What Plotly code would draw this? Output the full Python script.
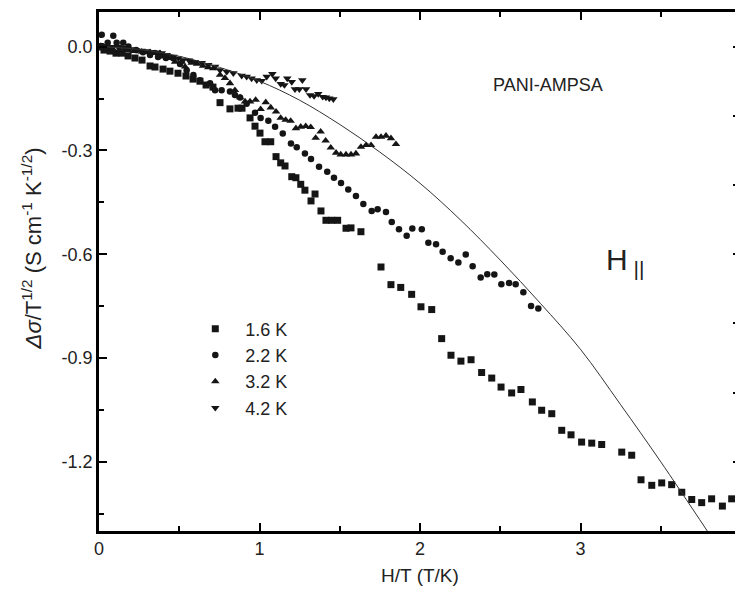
import plotly.graph_objects as go

# ---- data ----
x_16 = [0.006,0.031,0.069,0.106,0.143,0.181,0.224,0.268,0.318,0.349,0.399,0.442,0.492,0.542,0.586,0.629,0.667,0.710,
        0.754,0.816,0.866,0.891,0.941,0.972,1.003,1.034,1.070,1.103,1.132,1.159,1.201,1.227,1.257,1.283,1.321,1.346,
        1.383,1.414,1.450,1.487,1.539,1.570,1.632,1.757,1.819,1.880,1.948,2.006,2.073,2.135,2.193,2.255,2.318,2.384,
        2.447,2.505,2.571,2.629,2.700,2.758,2.821,2.883,2.941,3.007,3.070,3.132,3.257,3.319,3.377,3.444,3.506,3.568,
        3.631,3.693,3.755,3.817,3.884,3.942]
y_16 = [-0.001,-0.010,-0.013,-0.019,-0.019,-0.027,-0.033,-0.039,-0.056,-0.059,-0.065,-0.071,-0.077,-0.085,-0.094,-0.100,-0.111,-0.117,
        -0.162,-0.180,-0.178,-0.178,-0.206,-0.230,-0.250,-0.275,-0.275,-0.318,-0.336,-0.345,-0.376,-0.379,-0.398,-0.415,-0.446,-0.426,
        -0.475,-0.502,-0.502,-0.502,-0.525,-0.524,-0.535,-0.637,-0.688,-0.696,-0.716,-0.752,-0.760,-0.844,-0.892,-0.909,-0.905,-0.942,
        -0.958,-0.984,-1.001,-0.991,-1.027,-1.051,-1.061,-1.109,-1.122,-1.143,-1.146,-1.150,-1.172,-1.181,-1.252,-1.268,-1.261,-1.266,
        -1.288,-1.309,-1.318,-1.307,-1.328,-1.307]

x_22 = [0.017,0.054,0.089,0.110,0.151,0.183,0.231,0.274,0.318,0.368,0.417,0.463,0.505,0.546,0.588,0.629,0.692,0.723,0.764,
        0.816,0.847,0.879,0.920,0.972,1.007,1.055,1.097,1.145,1.196,1.232,1.283,1.321,1.371,1.422,1.464,1.508,1.553,1.601,
        1.647,1.699,1.736,1.788,1.824,1.869,1.917,1.952,2.011,2.052,2.100,2.141,2.191,2.239,2.285,2.328,2.378,2.419,2.463,
        2.507,2.555,2.596,2.644,2.692,2.737]
y_22 = [0.034,0.011,0.031,0.011,0.011,0.000,-0.010,-0.016,-0.024,-0.030,-0.033,-0.034,-0.050,-0.068,-0.082,-0.097,-0.106,-0.126,-0.126,
        -0.130,-0.140,-0.147,-0.165,-0.191,-0.206,-0.214,-0.232,-0.251,-0.280,-0.291,-0.309,-0.325,-0.347,-0.362,-0.379,-0.394,-0.413,-0.432,
        -0.455,-0.475,-0.470,-0.478,-0.507,-0.528,-0.547,-0.526,-0.528,-0.567,-0.571,-0.593,-0.612,-0.624,-0.601,-0.635,-0.667,-0.658,-0.659,
        -0.687,-0.683,-0.687,-0.710,-0.750,-0.757]

x_32 = [0.012,0.050,0.087,0.131,0.174,0.218,0.266,0.318,0.349,0.380,0.401,0.436,0.474,0.515,0.536,0.578,0.611,0.648,0.681,
        0.712,0.754,0.785,0.816,0.847,0.879,0.910,0.941,0.976,1.007,1.039,1.070,1.103,1.132,1.163,1.194,1.227,1.257,1.288,
        1.319,1.350,1.381,1.412,1.444,1.477,1.506,1.539,1.570,1.601,1.632,1.664,1.695,1.726,1.757,1.788,1.819,1.850]
y_32 = [0.002,-0.004,-0.007,-0.010,-0.011,-0.013,-0.015,-0.016,-0.019,-0.019,-0.029,-0.033,-0.044,-0.044,-0.058,-0.047,-0.050,-0.056,-0.060,
        -0.063,-0.082,-0.091,-0.106,-0.126,-0.147,-0.159,-0.159,-0.154,-0.181,-0.161,-0.176,-0.188,-0.206,-0.212,-0.215,-0.236,-0.232,-0.230,
        -0.233,-0.264,-0.246,-0.272,-0.292,-0.307,-0.312,-0.312,-0.312,-0.309,-0.290,-0.285,-0.285,-0.261,-0.261,-0.258,-0.265,-0.282]

x_42 = [0.006,0.044,0.081,0.118,0.156,0.193,0.231,0.266,0.299,0.336,0.361,0.391,0.422,0.463,0.494,0.525,0.561,0.598,0.640,
        0.681,0.723,0.754,0.796,0.837,0.889,0.920,0.951,0.983,1.014,1.045,1.080,1.101,1.132,1.155,1.173,1.201,1.221,1.248,
        1.267,1.290,1.315,1.340,1.366,1.394,1.414,1.435,1.460]
y_42 = [0.005,0.002,-0.001,-0.001,-0.004,-0.007,-0.010,-0.012,-0.013,-0.015,-0.017,-0.019,-0.024,-0.029,-0.034,-0.039,-0.040,-0.044,-0.047,
        -0.053,-0.058,-0.068,-0.073,-0.077,-0.084,-0.087,-0.092,-0.097,-0.099,-0.087,-0.079,-0.092,-0.108,-0.111,-0.092,-0.102,-0.123,-0.123,
        -0.097,-0.123,-0.140,-0.143,-0.137,-0.145,-0.147,-0.150,-0.152]

x_fit = [0, 0.25, 0.5, 0.75, 1.0, 1.25, 1.5, 1.75, 2.0, 2.25, 2.5, 2.75, 3.0, 3.25, 3.5, 3.79]
y_fit = [0, -0.008, -0.028, -0.06, -0.1, -0.155, -0.225, -0.305, -0.395, -0.5, -0.617, -0.742, -0.875, -1.035, -1.2, -1.40]

series_names = ["1.6 K", "2.2 K", "3.2 K", "4.2 K"]
x_ticks = [0, 1, 2, 3, 4]
x_ticktext = ["0", "1", "2", "3", "4"]
y_ticks = [0.0, -0.3, -0.6, -0.9, -1.2]
y_ticktext = ["0.0", "-0.3", "-0.6", "-0.9", "-1.2"]
y_minor = [0.0, -0.15, -0.45, -0.75, -1.05, -1.35]

FONT = "Liberation Sans, Arial, sans-serif"
INK = "#000000"
TXT = "#222222"
NB = "\u00a0"

fig = go.Figure()
specs = [
    (x_16, y_16, "square", 7),
    (x_22, y_22, "circle", 6.5),
    (x_32, y_32, "triangle-up", 7.5),
    (x_42, y_42, "triangle-down", 7.5),
]
for (xs, ys, sym, sz), name in zip(specs, series_names):
    fig.add_trace(go.Scatter(
        x=xs, y=ys, mode="markers", name=NB * 2 + name,
        marker=dict(symbol=sym, size=sz, color="#151515", line=dict(width=0)),
    ))

fig.add_trace(go.Scatter(
    x=x_fit, y=y_fit, mode="lines", line=dict(color="#333333", width=1, shape="spline", smoothing=1.0),
    showlegend=False, yaxis="y2", hoverinfo="skip",
))

yr = [-1.4, 0.1]
tick_common = dict(ticks="inside", ticklen=8, tickwidth=2, tickcolor=INK,
                   showline=True, linewidth=2.5, linecolor=INK, layer="above traces",
                   showgrid=False, zeroline=False, automargin=False)
minor_common = dict(ticks="inside", ticklen=5, tickwidth=2, tickcolor=INK, showgrid=False)

# the page adds an 8 px body margin, so margins are offset by 8 px
fig.update_layout(
    width=743, height=590,
    margin=dict(l=91, r=10, t=4, b=67, autoexpand=False),
    paper_bgcolor="white", plot_bgcolor="white",
    font=dict(family=FONT, color=TXT, size=18),
    showlegend=True,
    legend=dict(x=0.15, y=0.425, xanchor="left", yanchor="top",
                bgcolor="rgba(0,0,0,0)", font=dict(size=18, family=FONT, color=TXT),
                tracegroupgap=0),
    xaxis=dict(range=[0, 4], tickvals=x_ticks, ticktext=x_ticktext, mirror="ticks",
               minor=dict(dtick=0.5, tick0=0, **minor_common),
               tickfont=dict(size=18, family=FONT, color=TXT),
               title=dict(text="H/T (T/K)", font=dict(size=19, family=FONT, color=TXT), standoff=11),
               **tick_common),
    yaxis=dict(range=yr, tickvals=y_ticks, ticktext=y_ticktext, mirror=False,
               minor=dict(tickvals=y_minor, **minor_common),
               tickfont=dict(size=18, family=FONT, color=TXT),
               **tick_common),
    yaxis2=dict(range=yr, overlaying="y", side="right", showticklabels=False,
                dtick=0.2, tick0=0,
                minor=dict(dtick=0.1, tick0=0, **minor_common),
                **tick_common),
    annotations=[
        dict(x=2.80, y=-0.11, xref="x", yref="y", text="PANI-AMPSA", showarrow=False,
             font=dict(size=18, family=FONT, color=TXT)),
        dict(x=3.28, y=-0.62, xref="x", yref="y", text="H<sub> ||</sub>", showarrow=False,
             font=dict(size=30, family=FONT, color=TXT)),
        dict(x=-0.104, y=0.545, xref="paper", yref="paper", xanchor="center", yanchor="middle",
             textangle=-90,
             text="<i>Δσ</i>/T<sup>1/2</sup> (S cm<sup>-1</sup> K<sup>-1/2</sup>)", showarrow=False,
             font=dict(size=22, family=FONT, color=TXT)),
    ],
)

fig.write_html("out.html")
